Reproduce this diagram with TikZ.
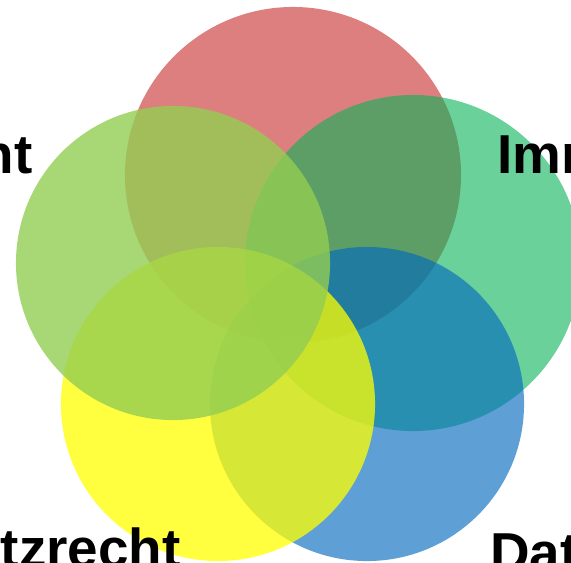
\documentclass[tikz,border=0pt]{standalone}
\usepackage{fontspec}
\setmainfont{Liberation Sans}
\definecolor{setred}{RGB}{200,42,42}
\definecolor{setgreen}{RGB}{8,178,87}
\definecolor{setlime}{RGB}{146,206,82}
\definecolor{setyellow}{RGB}{255,255,0}
\definecolor{setblue}{RGB}{0,105,189}
\tikzset{
    set/.style={circle, draw=none, inner sep=0pt},
    big/.style={set, minimum size=8.4cm},
    small/.style={set, minimum size=7.85cm},
    area/.style={font=\bfseries\fontsize{39}{47}\selectfont, inner sep=0pt}
}

\begin{document}
\begin{tikzpicture}[x=0.025cm, y=-0.025cm]
    % page frame
    \useasboundingbox (0,0) rectangle (571,562);
    \clip (0,0) rectangle (571,562);
        \node[big, fill=setred, fill opacity=0.6] (red) at (293,175) {};
        \node[big, fill=setgreen, fill opacity=0.6] (green) at (413,263) {};
        \node[small, fill=setblue, fill opacity=0.63] (blue) at (367,404) {};
        \node[small, fill=setyellow, fill opacity=0.75] (yellow) at (218,404) {};
        \node[small, fill=setlime, fill opacity=0.8] (lime) at (173,263) {};
    % labels
        \node[area, anchor=base east] (patent) at (33,173) {nt};
        \node[area, anchor=base west] (imm) at (497,173) {Imm};
        \node[area, anchor=base east] (schutz) at (181,567) {utzrecht};
        \node[area, anchor=base west] (dat) at (490,571) {Dat};
\end{tikzpicture}
\end{document}
